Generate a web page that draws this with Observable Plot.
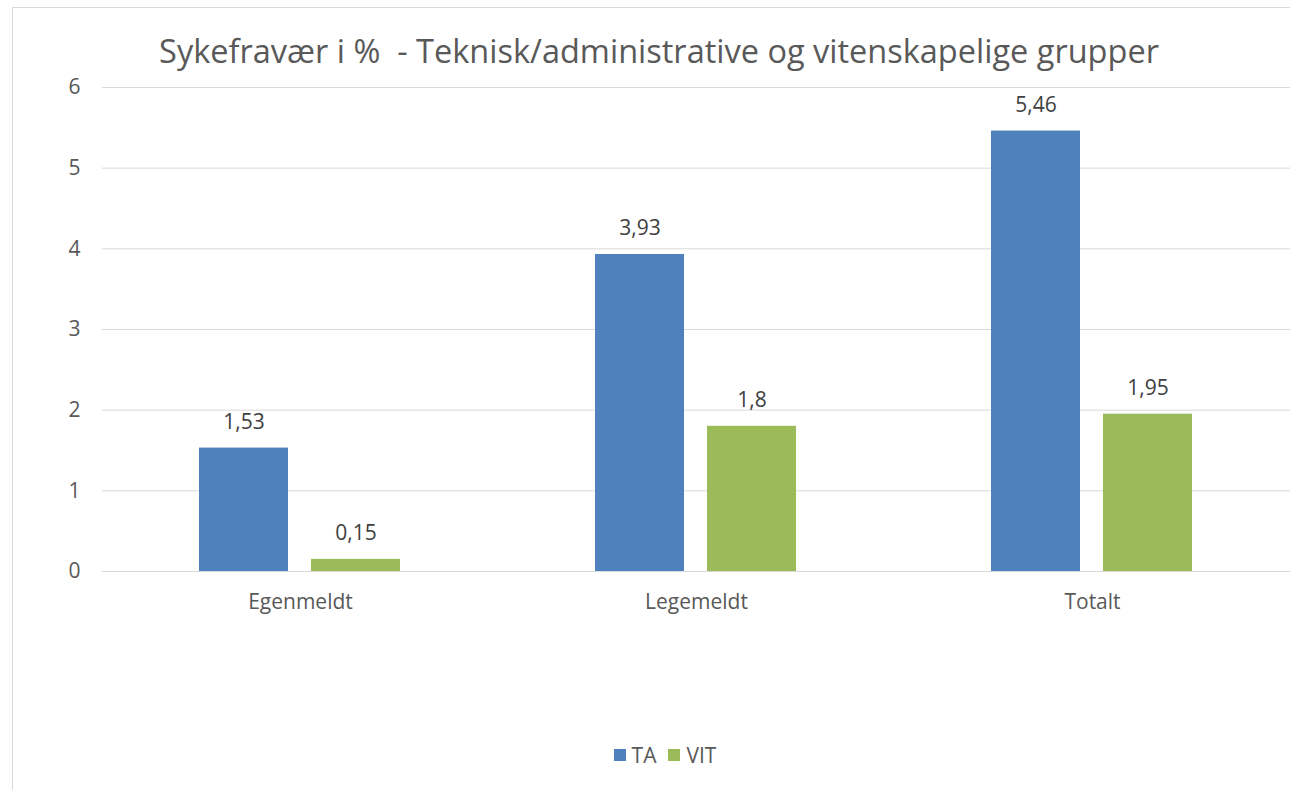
<!DOCTYPE html>
<html>
<head>
<meta charset="utf-8">
<script src="https://cdn.jsdelivr.net/npm/d3@7"></script>
<script src="https://cdn.jsdelivr.net/npm/@observablehq/plot@0.6"></script>
<style>
  html, body { margin: 0; padding: 0; background: #fff; }
  body { width: 1290px; height: 790px; position: relative; overflow: hidden; font-family: "Open Sans", sans-serif; color: #595959; }
  #frame { position: absolute; left: 12px; top: 7px; width: 1300px; height: 800px; border-left: 1px solid #d9d9d9; border-top: 1px solid #d9d9d9; box-sizing: border-box; }
  #title { position: absolute; left: 0; width: 1318px; top: 31px; text-align: center; font-size: 32.5px; line-height: 40px; white-space: pre; color: #595959; }
  #chart { position: absolute; left: 0; top: 70px; }
  #legend { position: absolute; left: 0; width: 1330px; top: 741px; display: flex; justify-content: center; align-items: center; font-size: 21px; line-height: 28px; }
  .item { display: flex; align-items: center; margin: 0 6px; }
  .sw { width: 12px; height: 12px; margin-right: 6px; }
</style>
</head>
<body>
<div id="frame"></div>
<div id="title">Sykefravær i %  - Teknisk/administrative og vitenskapelige grupper</div>
<div id="chart"></div>
<div id="legend"></div>
<script>
const categories = ["Egenmeldt", "Legemeldt", "Totalt"];
const seriesNames = ["TA", "VIT"];
const taValues = [1.53, 3.93, 5.46];
const vitValues = [0.15, 1.8, 1.95];
const yTicks = [0, 1, 2, 3, 4, 5, 6];
const seriesColors = ["#4F81BD", "#9BBB59"];

const rows = [];
categories.forEach((c, i) => {
  rows.push({category: c, series: "TA", value: taValues[i]});
  rows.push({category: c, series: "VIT", value: vitValues[i]});
});
const fmt = v => String(v).replace(".", ",");

const chart = Plot.plot({
  width: 1290,
  height: 551,
  marginLeft: 102,
  marginRight: 0,
  marginTop: 17,
  marginBottom: 50,
  style: {fontFamily: "Open Sans, sans-serif", fontSize: "21px", color: "#595959", background: "transparent"},
  fx: {domain: categories, padding: 0, axis: "bottom", tickSize: 0, tickPadding: 23, label: null},
  x: {domain: seriesNames, axis: null, paddingInner: 0.204, paddingOuter: 0.862},
  y: {domain: [0, 6], ticks: yTicks, tickSize: 0, tickPadding: 22, label: null, tickFormat: d => String(d)},
  color: {domain: seriesNames, range: seriesColors},
  marks: [
    Plot.ruleY(yTicks, {stroke: "#d9d9d9", strokeWidth: 1}),
    Plot.barY(rows, {fx: "category", x: "series", y: "value", fill: "series"}),
    Plot.text(rows, {fx: "category", x: "series", y: "value", text: d => fmt(d.value), lineAnchor: "bottom", dy: -19, fill: "#404040", fontSize: 21})
  ]
});
document.getElementById("chart").appendChild(chart);

const legend = document.getElementById("legend");
seriesNames.forEach((s, i) => {
  const item = document.createElement("div");
  item.className = "item";
  const sw = document.createElement("div");
  sw.className = "sw";
  sw.style.background = seriesColors[i];
  const t = document.createElement("span");
  t.textContent = s;
  item.appendChild(sw);
  item.appendChild(t);
  legend.appendChild(item);
});
</script>
</body>
</html>
